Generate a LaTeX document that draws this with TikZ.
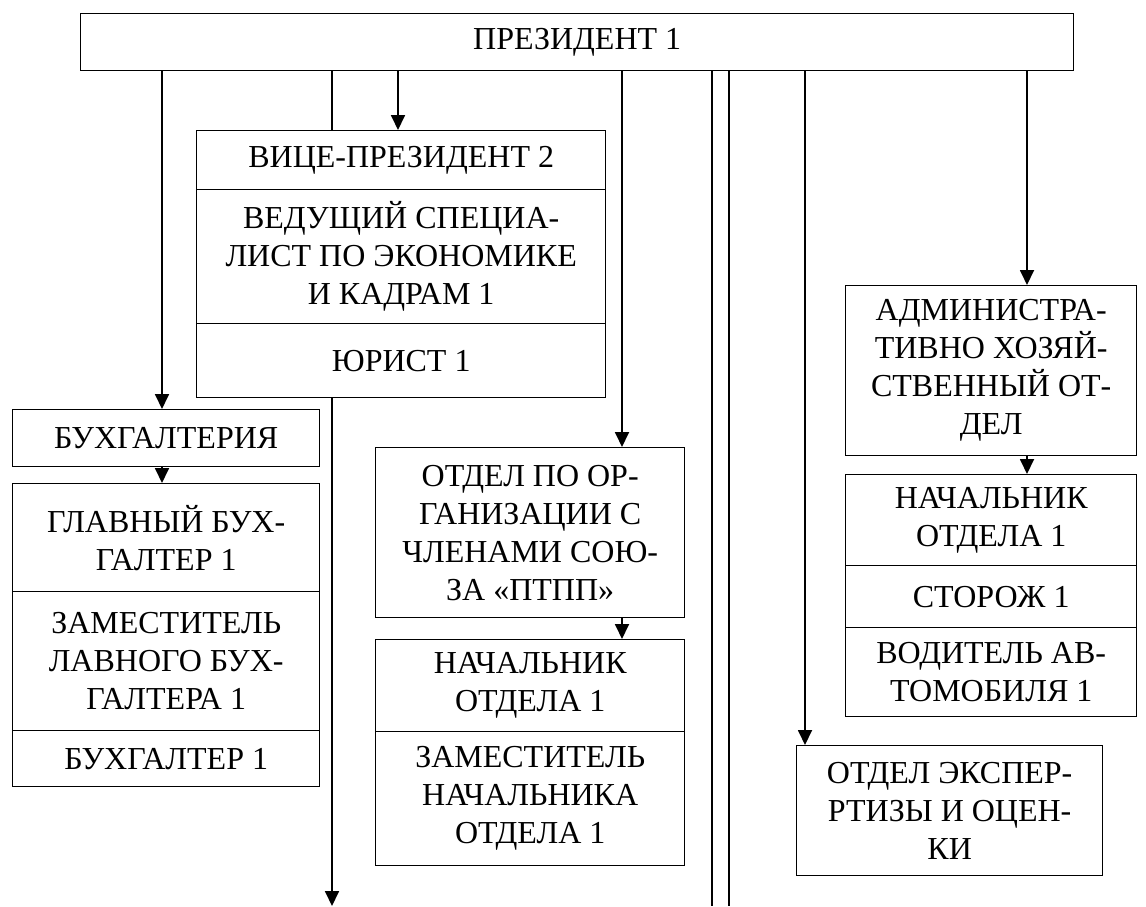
\documentclass[tikz,border=0pt]{standalone}
\usepackage{fontspec}
\setmainfont{Liberation Serif}
\usetikzlibrary{arrows.meta}
\begin{document}
\begin{tikzpicture}[x=1pt,y=-1pt,
  box/.style={draw,line width=1.4pt,anchor=north west,inner sep=0pt,align=center,
    font=\fontsize{32}{38}\selectfont},
  conn/.style={line width=1.8pt},
  arr/.style={conn,-{Triangle[length=15pt,width=14pt]}}]
\useasboundingbox (0,0) rectangle (1146,906);
% boxes
\node[box,minimum width=993pt,minimum height=57pt] (pres) at (80,13) {ПРЕЗИДЕНТ 1};
\node[box,minimum width=409pt,minimum height=59pt] (vp1) at (196,130) {ВИЦЕ-ПРЕЗИДЕНТ 2};
\node[box,minimum width=409pt,minimum height=134pt] (vp2) at (196,189) {ВЕДУЩИЙ СПЕЦИА-\\ЛИСТ ПО ЭКОНОМИКЕ\\И КАДРАМ 1};
\node[box,minimum width=409pt,minimum height=74pt] (vp3) at (196,323) {ЮРИСТ 1};
\node[box,minimum width=307pt,minimum height=57pt] (buh) at (12,409) {БУХГАЛТЕРИЯ};
\node[box,minimum width=307pt,minimum height=108pt] (gb1) at (12,483) {ГЛАВНЫЙ БУХ-\\ГАЛТЕР 1};
\node[box,minimum width=307pt,minimum height=139pt] (gb2) at (12,591) {ЗАМЕСТИТЕЛЬ\\ЛАВНОГО БУХ-\\ГАЛТЕРА 1};
\node[box,minimum width=307pt,minimum height=56pt] (gb3) at (12,730) {БУХГАЛТЕР 1};
\node[box,minimum width=309pt,minimum height=170pt] (org) at (375,447) {ОТДЕЛ ПО ОР-\\ГАНИЗАЦИИ С\\ЧЛЕНАМИ СОЮ-\\ЗА «ПТПП»};
\node[box,minimum width=309pt,minimum height=92pt] (on1) at (375,639) {НАЧАЛЬНИК\\ОТДЕЛА 1};
\node[box,minimum width=309pt,minimum height=134pt] (on2) at (375,731) {ЗАМЕСТИТЕЛЬ\\НАЧАЛЬНИКА\\ОТДЕЛА 1};
\node[box,minimum width=291pt,minimum height=170pt] (adm) at (845,285) {АДМИНИСТРА-\\ТИВНО ХОЗЯЙ-\\СТВЕННЫЙ ОТ-\\ДЕЛ};
\node[box,minimum width=291pt,minimum height=91pt] (an1) at (845,474) {НАЧАЛЬНИК\\ОТДЕЛА 1};
\node[box,minimum width=291pt,minimum height=62pt] (an2) at (845,565) {СТОРОЖ 1};
\node[box,minimum width=291pt,minimum height=89pt] (an3) at (845,627) {ВОДИТЕЛЬ АВ-\\ТОМОБИЛЯ 1};
\node[box,minimum width=306pt,minimum height=130pt] (exp) at (796,745) {ОТДЕЛ ЭКСПЕР-\\РТИЗЫ И ОЦЕН-\\КИ};
% connector start points on the president box
\coordinate (p1) at (162,70);
\coordinate (p2) at (332,70);
\coordinate (p3) at (398,70);
\coordinate (p4) at (622,70);
\coordinate (p5) at (712,70);
\coordinate (p6) at (729,70);
\coordinate (p7) at (805,70);
\coordinate (p8) at (1027,70);
\coordinate (e2) at (332,906);
\coordinate (e5) at (712,906);
\coordinate (e6) at (729,906);
% connectors
\draw[arr] (p1) -- (p1 |- buh.north);
\draw[arr] (buh.south -| p1) -- (gb1.north -| p1);
\draw[conn] (p2) -- (p2 |- vp1.north);
\draw[arr] (p3) -- (p3 |- vp1.north);
\draw[arr] (vp3.south -| p2) -- (e2);
\draw[arr] (p4) -- (p4 |- org.north);
\draw[arr] (org.south -| p4) -- (on1.north -| p4);
\draw[conn] (p5) -- (e5);
\draw[conn] (p6) -- (e6);
\draw[arr] (p7) -- (p7 |- exp.north);
\draw[arr] (p8) -- (p8 |- adm.north);
\draw[arr] (adm.south -| p8) -- (an1.north -| p8);
\end{tikzpicture}
\end{document}
